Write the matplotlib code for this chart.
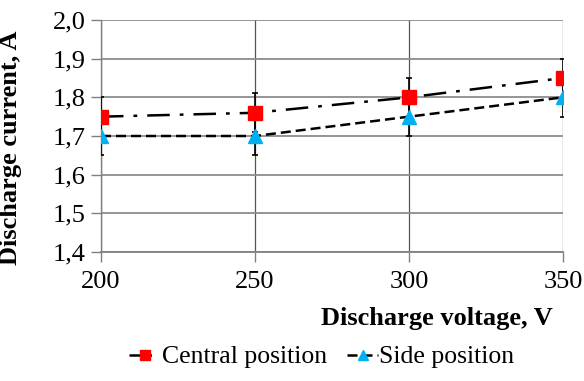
import matplotlib
matplotlib.use("Agg")
import matplotlib.pyplot as plt

voltage = [200, 250, 300, 350]
central = [1.75, 1.76, 1.80, 1.85]
side = [1.70, 1.70, 1.75, 1.80]
central_err = [0.05, 0.05, 0.05, 0.05]
side_err = [0.05, 0.05, 0.05, 0.05]
y_ticks = [1.4, 1.5, 1.6, 1.7, 1.8, 1.9, 2.0]
y_labels = ["1,4", "1,5", "1,6", "1,7", "1,8", "1,9", "2,0"]

plt.rcParams["font.family"] = ["Liberation Serif", "DejaVu Serif"]

fig = plt.figure(figsize=(5.84, 3.81), dpi=100)
ax = fig.add_axes([101 / 584, 1 - 252 / 381, 462 / 584, 232 / 381])

ax.set_xlim(200, 350)
ax.set_ylim(1.4, 2.0)
ax.set_xticks(voltage)
ax.set_yticks(y_ticks)
ax.set_yticklabels(y_labels)
ax.tick_params(axis="both", labelsize=19, direction="out", length=7,
               width=1.0, color="#808080", pad=4)
ax.tick_params(axis="x", pad=7)

ax.grid(True, axis="y", color="#8c8c8c", linewidth=1.3)
ax.grid(True, axis="x", color="#555555", linewidth=0.9)
ax.set_axisbelow(True)
for side_name in ["top", "right"]:
    ax.spines[side_name].set_visible(False)
ax.spines["left"].set_color("#808080")
ax.spines["bottom"].set_color("#808080")
ax.spines["left"].set_linewidth(1.0)
ax.spines["bottom"].set_linewidth(1.3)

ax.errorbar(voltage, central, yerr=central_err, fmt="none", ecolor="black",
            elinewidth=1.2, capsize=2.5, capthick=1.2, zorder=3)
ax.errorbar(voltage, side, yerr=side_err, fmt="none", ecolor="black",
            elinewidth=1.2, capsize=2.5, capthick=1.2, zorder=3)

ax.plot(voltage, central, color="black", linewidth=1.8,
        dashes=(9, 4, 1.5, 4), marker="s", markersize=10,
        markerfacecolor="#ff0000", markeredgecolor="#ff0000",
        label="Central position", zorder=4)
ax.plot(voltage, side, color="black", linewidth=1.8,
        dashes=(4, 2), marker="^", markersize=10.5,
        markerfacecolor="#00b0f0", markeredgecolor="#00b0f0",
        label="Side position", zorder=4)

ax.set_ylabel("Discharge current, A", fontsize=19, fontweight="bold")
ax.yaxis.set_label_coords((22 - 101) / 462, (252 - 148) / 232)
fig.text(437 / 584, 1 - 318 / 381, "Discharge voltage, V", fontsize=19,
         fontweight="bold", ha="center", va="center")

leg = fig.legend(loc="center", bbox_to_anchor=(322 / 584, 1 - 357 / 381),
                 ncol=2, frameon=False, fontsize=18.5, handlelength=1.2,
                 handletextpad=0.05, columnspacing=0.8, markerscale=0.75)

fig.savefig("out.png", dpi=100)
